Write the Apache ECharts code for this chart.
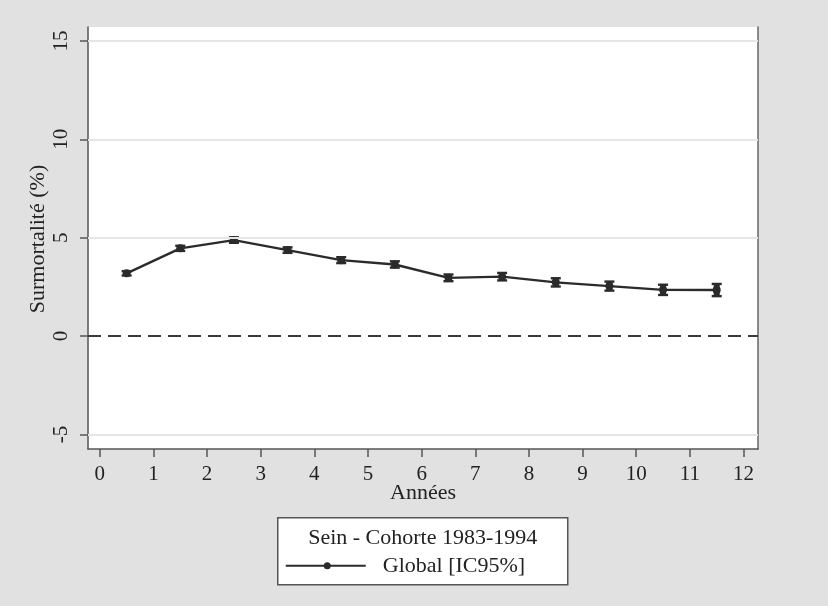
<!DOCTYPE html>
<html>
<head>
<meta charset="utf-8">
<script src="https://cdn.jsdelivr.net/npm/echarts@6/dist/echarts.min.js"></script>
<style>
  html, body { margin: 0; padding: 0; background: #e1e1e1; }
  #chart { width: 828px; height: 606px; }
</style>
</head>
<body>
<div id="chart"></div>
<script>
// Mid-year points (years since diagnosis) and excess mortality (%)
const years = [0.5, 1.5, 2.5, 3.5, 4.5, 5.5, 6.5, 7.5, 8.5, 9.5, 10.5, 11.5];
const excess = [3.19, 4.46, 4.88, 4.37, 3.86, 3.64, 2.96, 3.02, 2.73, 2.54, 2.35, 2.34];
// 95% confidence bounds
const ciLow  = [3.08, 4.33, 4.74, 4.23, 3.71, 3.48, 2.79, 2.83, 2.52, 2.31, 2.09, 2.03];
const ciHigh = [3.30, 4.59, 5.02, 4.51, 4.01, 3.80, 3.13, 3.21, 2.94, 2.77, 2.61, 2.65];

const xTicks = [0, 1, 2, 3, 4, 5, 6, 7, 8, 9, 10, 11, 12];
const yTicks = [-5, 0, 5, 10, 15];
const gridValues = [-5, 5, 10, 15];

const FONT = '"Liberation Serif", "DejaVu Serif", serif';
const INK = '#2b2b2b';

const chart = echarts.init(document.getElementById('chart'));

const points = years.map((x, i) => [x, excess[i]]);
const bars = years.map((x, i) => [x, ciLow[i], ciHigh[i]]);

chart.setOption({
  backgroundColor: '#e1e1e1',
  animation: false,
  grid: {
    left: 88, right: 70, top: 27, bottom: 157,
    show: true, backgroundColor: '#ffffff', borderWidth: 0
  },
  xAxis: {
    type: 'value', min: -0.22, max: 12.27,
    axisLine: { show: true, onZero: false, lineStyle: { color: '#555', width: 1.5 } },
    axisTick: { show: true, customValues: xTicks, length: 8, lineStyle: { color: '#555', width: 1.5 } },
    axisLabel: { customValues: xTicks, fontFamily: FONT, fontSize: 21, color: '#222', margin: 15 },
    splitLine: { show: false }
  },
  yAxis: [{
    type: 'value', min: -5.74, max: 15.71,
    axisLine: { show: true, onZero: false, lineStyle: { color: '#555', width: 1.5 } },
    axisTick: { show: true, customValues: yTicks, length: 8, lineStyle: { color: '#555', width: 1.5 } },
    axisLabel: { customValues: yTicks, rotate: 90, fontFamily: FONT, fontSize: 21, color: '#222', margin: 16 },
    splitLine: { show: false }
  }, {
    type: 'value', min: -5.74, max: 15.71, position: 'right',
    axisLine: { show: true, onZero: false, lineStyle: { color: '#666', width: 1.5 } },
    axisTick: { show: false }, axisLabel: { show: false }, splitLine: { show: false }
  }],
  series: [
    {
      // light horizontal reference lines and the dashed zero line
      type: 'line', data: [], silent: true,
      markLine: {
        symbol: 'none', silent: true, label: { show: false },
        data: gridValues.map(v => ({ yAxis: v, lineStyle: { color: '#e6e6e6', width: 2, type: 'solid' } }))
          .concat([{ yAxis: 0, lineStyle: { color: '#3a3a3a', width: 2, type: [13, 7] } }])
      }
    },
    {
      type: 'line', data: points, symbol: 'circle', symbolSize: 8,
      lineStyle: { color: INK, width: 2.4 },
      itemStyle: { color: INK },
      z: 3
    },
    {
      type: 'custom', data: bars, z: 4,
      renderItem: function (params, api) {
        const x = api.value(0);
        const lo = api.coord([x, api.value(1)]);
        const hi = api.coord([x, api.value(2)]);
        const cap = 5;
        const style = { stroke: INK, lineWidth: 2.4 };
        return {
          type: 'group',
          children: [
            { type: 'line', shape: { x1: lo[0], y1: lo[1], x2: hi[0], y2: hi[1] }, style: { stroke: INK, lineWidth: 6 } },
            { type: 'line', shape: { x1: lo[0] - cap, y1: lo[1], x2: lo[0] + cap, y2: lo[1] }, style },
            { type: 'line', shape: { x1: hi[0] - cap, y1: hi[1], x2: hi[0] + cap, y2: hi[1] }, style }
          ]
        };
      }
    }
  ],
  graphic: [
    {
      type: 'text', x: 38, y: 239, rotation: Math.PI / 2,
      style: { text: 'Surmortalité (%)', font: '22px ' + FONT, fill: '#222', align: 'center', verticalAlign: 'middle' }
    },
    {
      type: 'text', x: 423, y: 493,
      style: { text: 'Années', font: '22px ' + FONT, fill: '#222', align: 'center', verticalAlign: 'middle' }
    },
    {
      type: 'group', left: 277, top: 517,
      children: [
        { type: 'rect', shape: { x: 0, y: 0, width: 290, height: 67 }, style: { fill: '#fff', stroke: '#555', lineWidth: 1.5 } },
        { type: 'text', x: 145, y: 20, style: { text: 'Sein - Cohorte 1983-1994', font: '22px ' + FONT, fill: '#222', align: 'center', verticalAlign: 'middle' } },
        { type: 'line', shape: { x1: 8, y1: 48, x2: 88, y2: 48 }, style: { stroke: INK, lineWidth: 2 } },
        { type: 'circle', shape: { cx: 49.5, cy: 48, r: 3.5 }, style: { fill: INK } },
        { type: 'text', x: 105, y: 48, style: { text: 'Global [IC95%]', font: '22px ' + FONT, fill: '#222', align: 'left', verticalAlign: 'middle' } }
      ]
    }
  ]
});
</script>
</body>
</html>
